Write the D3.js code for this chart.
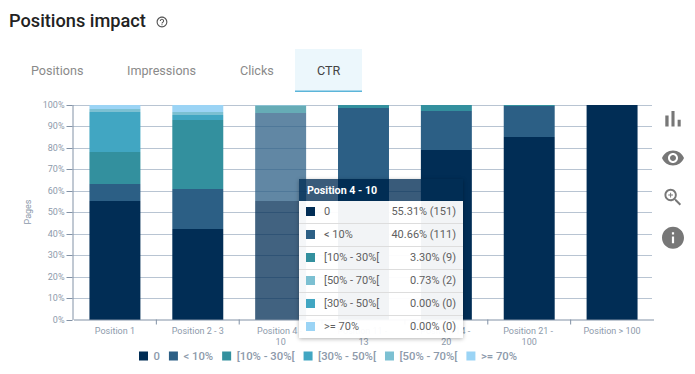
<!DOCTYPE html>
<html>
<head>
<meta charset="utf-8">
<script src="https://cdn.jsdelivr.net/npm/d3@7"></script>
<style>
  html, body { margin: 0; padding: 0; background: #fff; }
  body { width: 695px; height: 374px; overflow: hidden; position: relative; font-family: Roboto, sans-serif; }
  svg { position: absolute; left: 0; top: 0; }
  .axis text { font-family: Roboto, sans-serif; font-size: 9px; fill: #8d9aab; }
  .axis path, .axis line { stroke: #8292a6; }
  .tooltip { position: absolute; left: 299px; top: 179px; width: 164px; height: 159px; box-shadow: 0 1px 4px rgba(0,0,0,.3); font-size: 11px; color: #5f5f5f; }
  .tooltip .head { height: 22px; line-height: 23px; padding-left: 8px; font-size: 10.7px; font-weight: 700; color: #fff; background: rgba(1,45,85,.78); }
  .tooltip .row { position: relative; height: 22px; line-height: 22px; background: rgba(255,255,255,.95); border-bottom: 1px solid #ddd; }
  .tooltip .row:last-child { border-bottom: 0; }
  .tooltip .sw { position: absolute; left: 7px; top: 6px; width: 9px; height: 9px; }
  .tooltip .name { position: absolute; left: 25px; }
  .tooltip .val { position: absolute; right: 7px; }
</style>
</head>
<body>
<svg id="chart" width="695" height="374"></svg>
<script>
const categories = ["Position 1", "Position 2 - 3", "Position 4 - 10", "Position 11 - 13", "Position 14 - 20", "Position 21 - 100", "Position > 100"];
const seriesNames = ["0", "< 10%", "[10% - 30%[", "[30% - 50%[", "[50% - 70%[", ">= 70%"];
const seriesColors = ["#012d55", "#2c5f85", "#33909e", "#41a6c2", "#7cc0d2", "#9bd4f5"];

const zero = [55, 42, 55.31, 65.5, 79, 85, 100];
const under10 = [8, 18.7, 40.66, 33, 18.2, 14.4, 0];
const from10to30 = [15, 32.1, 3.3, 1.5, 2.8, 0.4, 0];
const from30to50 = [18.5, 2.2, 0, 0, 0, 0.2, 0];
const from50to70 = [1.5, 1.5, 0.73, 0, 0, 0, 0];
const over70 = [2, 3.5, 0, 0, 0, 0, 0];
const seriesValues = [zero, under10, from10to30, from30to50, from50to70, over70];

const yTicks = [0, 10, 20, 30, 40, 50, 60, 70, 80, 90, 100];

// tooltip shown for the hovered column
const hoveredIndex = 2;
const hoveredCounts = [151, 111, 9, 0, 2, 0];

const tabs = [
  { name: "Positions", x: 31 },
  { name: "Impressions", x: 127 },
  { name: "Clicks", x: 240 },
  { name: "CTR", x: 317 }
];

const rows = categories.map((c, i) => {
  const row = { category: c };
  seriesNames.forEach((s, k) => { row[s] = seriesValues[k][i]; });
  return row;
});
const stacked = d3.stack().keys(seriesNames)(rows);

const xScale = d3.scaleBand().domain(categories).range([73.5, 653.5]).paddingInner(0.385).paddingOuter(0.1925);
// clamp: the float sums can land a hair over 100
const yScale = d3.scaleLinear().domain([0, 100]).range([319.5, 104.5]).clamp(true);

const svg = d3.select("#chart");

// header
svg.append("text").attr("x", 9).attr("y", 27).attr("font-size", 18.2).attr("font-weight", 500).attr("fill", "#222").text("Positions impact");
svg.append("path")
  .attr("transform", "translate(155.5,15.5) scale(0.54)")
  .attr("fill", "#555")
  .attr("d", "M11 18h2v-2h-2v2zm1-16C6.48 2 2 6.48 2 12s4.48 10 10 10 10-4.48 10-10S17.52 2 12 2zm0 18c-4.41 0-8-3.59-8-8s3.59-8 8-8 8 3.59 8 8-3.59 8-8 8zm0-14c-2.21 0-4 1.79-4 4h2c0-1.1.9-2 2-2s2 .9 2 2c0 2-3 1.75-3 5h2c0-2.25 3-2.5 3-5 0-2.21-1.79-4-4-4z");

// tabs
svg.append("rect").attr("x", 295).attr("y", 49).attr("width", 67).attr("height", 42).attr("fill", "#ecf7fc");
svg.append("rect").attr("x", 295).attr("y", 90.5).attr("width", 67).attr("height", 1.5).attr("fill", "#5cb5d9");
svg.selectAll(".tab").data(tabs).join("text")
  .attr("class", "tab")
  .attr("x", d => d.x)
  .attr("y", 75)
  .attr("font-size", 12.6)
  .attr("fill", d => d.name === "CTR" ? "#444" : "#8a8a8a")
  .text(d => d.name);

// gridlines
svg.append("g").selectAll("line").data(yTicks.slice(1)).join("line")
  .attr("x1", 72.5).attr("x2", 652)
  .attr("y1", d => Math.round(yScale(d)) + 0.5).attr("y2", d => Math.round(yScale(d)) + 0.5)
  .attr("stroke", "#b8c4d2");

// bars
svg.append("g").selectAll("g").data(stacked).join("g")
  .attr("fill", (d, i) => seriesColors[i])
  .selectAll("rect").data(d => d).join("rect")
  .attr("x", d => xScale(d.data.category))
  .attr("width", xScale.bandwidth())
  .attr("y", d => Math.round(yScale(d[1])))
  .attr("height", d => Math.round(yScale(d[0])) - Math.round(yScale(d[1])))
  .attr("opacity", d => d.data.category === categories[hoveredIndex] ? 0.75 : 1);

// axes
const yAxis = svg.append("g").attr("class", "axis").attr("transform", "translate(72.5,0)")
  .call(d3.axisLeft(yScale).tickValues(yTicks).tickFormat(d => d + "%").tickSize(6).tickSizeOuter(0).tickPadding(2));
yAxis.selectAll(".tick").attr("transform", d => `translate(0,${Math.round(yScale(d)) + 0.5})`);

const xAxis = svg.append("g").attr("class", "axis").attr("transform", "translate(0,319.5)")
  .call(d3.axisBottom(xScale).tickSize(0).tickSizeOuter(0).tickPadding(8));
xAxis.selectAll(".tick text").each(function(d) {
  // long ranges wrap after the dash
  const lines = d.split(/(?<=- )(?=\d\d)/);
  const text = d3.select(this).text(null);
  lines.forEach((l, i) => text.append("tspan").attr("x", 0).attr("dy", i ? 11 : "0.71em").text(l));
});
xAxis.selectAll(".edge").data(categories.slice(1)).join("line")
  .attr("class", "edge")
  .attr("x1", d => xScale(d) - xScale.step() * 0.1925).attr("x2", d => xScale(d) - xScale.step() * 0.1925)
  .attr("y1", 0).attr("y2", 5);

svg.append("text")
  .attr("transform", "translate(31,212) rotate(-90)")
  .attr("text-anchor", "middle")
  .attr("font-size", 9)
  .attr("fill", "#8d9aab")
  .text("Pages");

// legend
const legend = svg.append("g");
let legendX = 0;
seriesNames.forEach((name, i) => {
  const item = legend.append("g").attr("transform", `translate(${legendX},0)`);
  item.append("rect").attr("y", -4.5).attr("width", 9).attr("height", 9).attr("fill", seriesColors[i]);
  const label = item.append("text").attr("x", 14.5).attr("y", 4).attr("font-size", 11.3).attr("font-weight", 500).attr("fill", "#8d9aab").text(name);
  legendX += 14.5 + label.node().getComputedTextLength() + 9;
});
legend.attr("transform", `translate(139,356)`);

// icons on the right
const icons = [
  { y: 105.5, s: 1.1, d: "M5 9.2h3V19H5zM10.6 5h2.8v14h-2.8zm5.6 8H19v6h-2.8z" },
  { y: 146, s: 1, d: "M12 4.5C7 4.5 2.73 7.61 1 12c1.73 4.39 6 7.5 11 7.5s9.27-3.11 11-7.5c-1.73-4.39-6-7.5-11-7.5zM12 17c-2.76 0-5-2.24-5-5s2.24-5 5-5 5 2.24 5 5-2.24 5-5 5zm0-8c-1.66 0-3 1.34-3 3s1.34 3 3 3 3-1.34 3-3-1.34-3-3-3z" },
  { y: 186, s: 0.95, d: "M15.5 14h-.79l-.28-.27C15.41 12.59 16 11.11 16 9.5 16 5.91 13.09 3 9.5 3S3 5.91 3 9.5 5.91 16 9.5 16c1.61 0 3.09-.59 4.23-1.57l.27.28v.79l5 4.99L20.49 19l-4.99-5zm-6 0C7.01 14 5 11.99 5 9.5S7.01 5 9.5 5 14 7.01 14 9.5 11.99 14 9.5 14zM12 10h-2v2H9v-2H7V9h2V7h1v2h2v1z" },
  { y: 224.5, s: 1.1, d: "M12 2C6.48 2 2 6.48 2 12s4.48 10 10 10 10-4.48 10-10S17.52 2 12 2zm1 15h-2v-6h2v6zm0-8h-2V7h2v2z" }
];
svg.selectAll(".icon").data(icons).join("path")
  .attr("class", "icon")
  .attr("transform", d => `translate(${673 - 12 * d.s},${d.y}) scale(${d.s})`)
  .attr("fill", "#777")
  .attr("d", d => d.d);

// tooltip
const tipRows = d3.sort(seriesNames.map((name, k) => ({
  name,
  color: seriesColors[k],
  value: seriesValues[k][hoveredIndex],
  count: hoveredCounts[k]
})), d => -d.value);
const tip = d3.select("body").append("div").attr("class", "tooltip");
tip.append("div").attr("class", "head").text(categories[hoveredIndex]);
const row = tip.selectAll(".row").data(tipRows).join("div").attr("class", "row");
row.append("span").attr("class", "sw").style("background", d => d.color);
row.append("span").attr("class", "name").text(d => d.name);
row.append("span").attr("class", "val").text(d => `${d3.format(".2f")(d.value)}% (${d.count})`);
</script>
</body>
</html>
